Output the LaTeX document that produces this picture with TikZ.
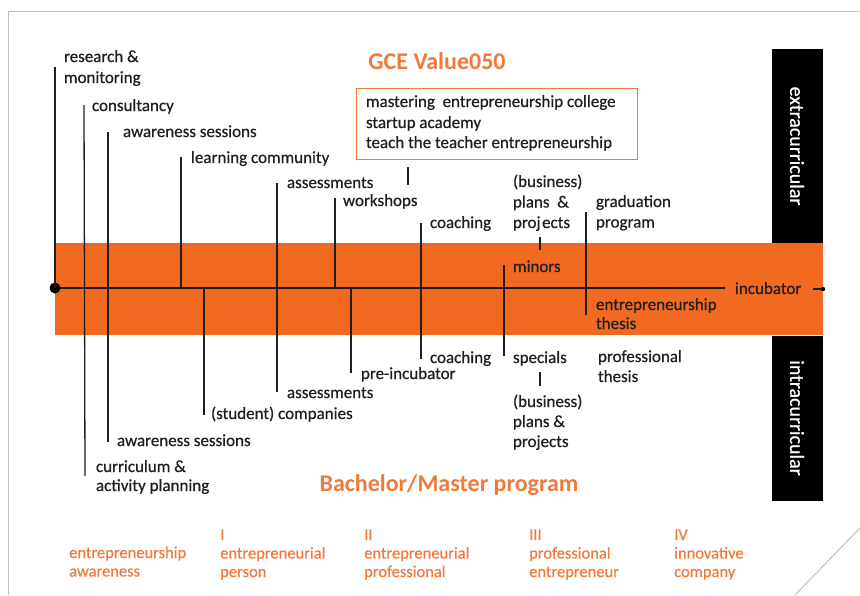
\documentclass[tikz,border=0pt]{standalone}
\usepackage{fontspec}
\setmainfont{Carlito}
\newfontfamily\labfont[FakeBold=0.6]{Carlito}
\definecolor{band}{HTML}{F26A22}
\definecolor{otxt}{HTML}{F07A3C}
\definecolor{framec}{HTML}{BFBFBF}
\definecolor{ink}{HTML}{1E1E1E}
\newcommand{\twoL}[2]{\vtop{\hbox{#1}\hbox{#2}}}
\newcommand{\threeL}[3]{\vtop{\hbox{#1}\hbox{#2}\hbox{#3}}}
\begin{document}
\begin{tikzpicture}[x=1pt,y=-1pt,
  lbl/.style={anchor=base west, inner sep=0pt, outer sep=0pt, text=ink, font=\labfont\fontsize{17}{20.5}\selectfont},
  title/.style={anchor=base, inner sep=0pt, text=otxt, font=\fontsize{24}{28}\selectfont\bfseries},
  stage/.style={anchor=base west, inner sep=0pt, text=otxt, font=\labfont\fontsize{16.5}{18.5}\selectfont},
  side/.style={anchor=center, inner sep=0pt, text=white, rotate=-90, font=\labfont\fontsize{20}{24}\selectfont},
  conn/.style={draw=ink, line width=1.3pt},
  axis/.style={draw=ink, line width=2pt}]
\useasboundingbox (0,0) rectangle (860,595);
% frame
\draw[framec, line width=1pt] (8,595) -- (8,11) -- (860,11);
\draw[framec, line width=1pt] (860,528) -- (795,595);
% orange band and side boxes
\fill[band] (55,243) rectangle (823,335);
\fill[black] (772,49) rectangle (823,243);
\fill[black] (772,336) rectangle (823,501);
\node[side] (extra) at (797,146) {extracurricular};
\node[side] (intra) at (797,418) {intracurricular};
% titles
\node[title] (gce) at (437,69) {GCE Value050};
\node[title] (bm) at (449,491) {Bachelor/Master program};
% GCE box
\draw[otxt, line width=1pt] (356,88) rectangle (637,159);
\node[lbl] (box1) at (366,107) {mastering\ \ entrepreneurship college};
\node[lbl] (box2) at (366,128) {startup academy};
\node[lbl] (box3) at (366,148) {teach the teacher entrepreneurship};
% timeline
\coordinate (start) at (55,288);
\coordinate (tend) at (725,288);
\draw[axis] (start) -- (tend);
\fill[black] (start) circle (5.5);
\node[lbl] (incub) at (735,294) {incubator};
\coordinate (dotR) at (823,289);
\draw[ink, line width=1.4pt] (813,289) -- (dotR);
\fill[black] (dotR) circle (2.2);
% vertical connectors
\draw[conn] (55,288) -- (55,67);
\draw[conn] (84,105) -- (85,476);
\draw[conn] (108,132) -- (108,442);
\draw[conn] (181,288) -- (181,157);
\draw[conn] (204,288) -- (204,415);
\draw[conn] (277,183) -- (277,392);
\draw[conn] (335,288) -- (335,198);
\draw[conn] (351,288) -- (351,373);
\draw[conn] (421,223) -- (421,359);
\draw[conn] (408,167) -- (408,185);
\draw[conn] (504,265) -- (504,356);
\draw[conn] (540,237) -- (540,250);
\draw[conn] (540,372) -- (540,386);
\draw[conn] (586,212) -- (586,315);
% upper labels
\node[lbl, font=\labfont\fontsize{17}{21}\selectfont] (res) at (64,62) {\twoL{research \&}{monitoring}};
\node[lbl] (cons) at (92,111) {consultancy};
\node[lbl] (aw1) at (123,137) {awareness sessions};
\node[lbl] (learn) at (191,163) {learning community};
\node[lbl] (ass1) at (287,188) {assessments};
\node[lbl] (work) at (343,206) {workshops};
\node[lbl] (coach1) at (430,228) {coaching};
\node[lbl] (bus1) at (513,187) {\threeL{(business)}{plans\ \ \&}{proj\kern1.5pt ects}};
\node[lbl] (grad) at (596,207) {\twoL{graduation}{program}};
\node[lbl] (minors) at (513,272) {minors};
\node[lbl, font=\labfont\fontsize{17}{19}\selectfont] (ethes) at (596,310) {\twoL{entrepreneurship}{thesis}};
% lower labels
\node[lbl] (coach2) at (430,363) {coaching};
\node[lbl] (preinc) at (361,379) {pre-incubator};
\node[lbl] (ass2) at (287,398) {assessments};
\node[lbl] (stud) at (211,419) {(student) companies};
\node[lbl] (aw2) at (117,446) {awareness sessions};
\node[lbl, font=\labfont\fontsize{17}{19}\selectfont] (curr) at (96,472) {\twoL{curriculum \&}{activity planning}};
\node[lbl] (spec) at (513,363) {specials};
\node[lbl, font=\labfont\fontsize{17}{20}\selectfont] (bus2) at (513,407) {\threeL{(business)}{plans \&}{projects}};
\node[lbl, font=\labfont\fontsize{17}{20}\selectfont] (pthes) at (598,362) {\twoL{professional}{thesis}};
% stages
\node[stage] (s0) at (69,558) {\twoL{entrepreneurship}{awareness}};
\node[stage] (s1) at (220,540) {\threeL{I}{entrepreneurial}{person}};
\node[stage] (s2) at (364,540) {\threeL{II}{entrepreneurial}{professional}};
\node[stage] (s3) at (529,540) {\threeL{III}{professional}{entrepreneur}};
\node[stage] (s4) at (674,540) {\threeL{IV}{innovative}{company}};
\end{tikzpicture}
\end{document}
